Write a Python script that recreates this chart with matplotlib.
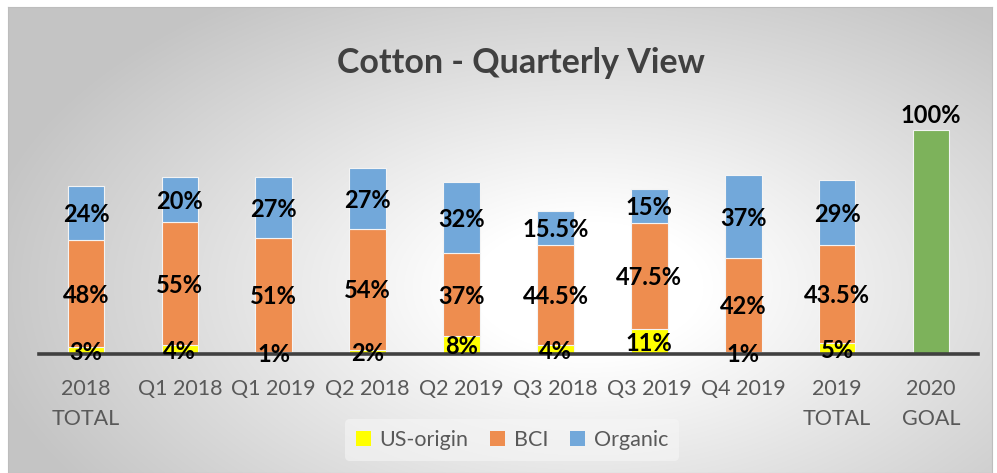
import numpy as np
import matplotlib
matplotlib.use("Agg")
import matplotlib.pyplot as plt
from matplotlib.patches import Patch

categories = ["2018\nTOTAL", "Q1 2018", "Q1 2019", "Q2 2018", "Q2 2019",
              "Q3 2018", "Q3 2019", "Q4 2019", "2019\nTOTAL", "2020\nGOAL"]
us_origin = [3, 4, 1, 2, 8, 4, 11, 1, 5, 0]
bci = [48, 55, 51, 54, 37, 44.5, 47.5, 42, 43.5, 0]
organic = [24, 20, 27, 27, 32, 15.5, 15, 37, 29, 0]
goal = [0, 0, 0, 0, 0, 0, 0, 0, 0, 100]

c_us = "#FFFF00"
c_bci = "#EE8D4F"
c_org = "#72A8DA"
c_goal = "#7DB25B"
FONT = "Lato"

fig = plt.figure(figsize=(9.97, 4.73), dpi=100)
fig.patch.set_facecolor("white")

# background panel with radial gradient
bg = fig.add_axes([8 / 997, 0, (992 - 8) / 997, (473 - 7) / 473])
yy, xx = np.mgrid[0:466, 0:984]
d = np.hypot((xx - 580) / 580.0, (yy - 280) / 330.0)
shade = 1 - 0.24 * np.clip(d - 0.2, 0, None) / 0.9
shade = np.clip(shade, 0.77, 1)
bg.imshow(np.dstack([shade] * 3), aspect="auto", extent=[0, 1, 0, 1])
bg.set_xlim(0, 1)
bg.set_ylim(0, 1)
for s in bg.spines.values():
    s.set_color("#bdbdbd")
    s.set_linewidth(0.8)
bg.set_xticks([])
bg.set_yticks([])

ax = fig.add_axes([39 / 997, (473 - 354) / 473, (978 - 39) / 997, 246.4 / 473])
ax.patch.set_alpha(0)
x = np.arange(len(categories))
w = 0.39
edge = dict(edgecolor="#f4f4f4", linewidth=0.8)
ax.bar(x, us_origin, w, color=c_us, **edge)
ax.bar(x, bci, w, bottom=us_origin, color=c_bci, **edge)
bottom2 = np.array(us_origin) + np.array(bci)
ax.bar(x, organic, w, bottom=bottom2, color=c_org, **edge)
ax.bar(x[-1], goal[-1], w, color=c_goal, **edge)

lbl = dict(ha="center", va="center", fontsize=17, fontweight="bold",
           family=FONT, color="black")
for i in range(len(categories) - 1):
    ax.text(x[i], us_origin[i] / 2 - 0.8, f"{us_origin[i]:g}%", **lbl)
    ax.text(x[i], us_origin[i] + bci[i] / 2 - 0.8, f"{bci[i]:g}%", **lbl)
    ax.text(x[i], bottom2[i] + organic[i] / 2 - 0.8, f"{organic[i]:g}%", **lbl)
ax.text(x[-1], goal[-1] + 1.5, f"{goal[-1]}%", ha="center", va="bottom",
        fontsize=17, fontweight="bold", family=FONT, color="black")

ax.set_xlim(-0.5, len(categories) - 0.5)
ax.set_ylim(0, 110)
for s in ["top", "right", "left"]:
    ax.spines[s].set_visible(False)
ax.spines["bottom"].set_color("#404040")
ax.spines["bottom"].set_linewidth(2.6)
ax.set_yticks([])
ax.set_xticks(x)
ax.set_xticklabels(categories, fontsize=15.5, family=FONT, color="#595959",
                   linespacing=1.62)
ax.tick_params(axis="x", length=0, pad=18)

fig.text(521 / 997, 1 - 63 / 473, "Cotton - Quarterly View", ha="center",
         va="center", fontsize=24.5, fontweight="bold", family=FONT,
         color="#404040")

handles = [Patch(facecolor=c_us, label="US-origin"),
           Patch(facecolor=c_bci, label="BCI"),
           Patch(facecolor=c_org, label="Organic")]
leg = fig.legend(handles=handles, loc="center", ncol=3,
                 bbox_to_anchor=(512 / 997, 1 - 440 / 473), frameon=True,
                 prop={"family": FONT, "size": 15.5}, handlelength=0.7,
                 handleheight=0.7, handletextpad=0.4, columnspacing=1.0,
                 borderpad=0.5)
leg.get_frame().set_facecolor("#f6f6f6")
leg.get_frame().set_edgecolor("none")
leg.get_frame().set_alpha(0.6)
for t in leg.get_texts():
    t.set_color("#595959")

fig.savefig("out.png", dpi=100)
